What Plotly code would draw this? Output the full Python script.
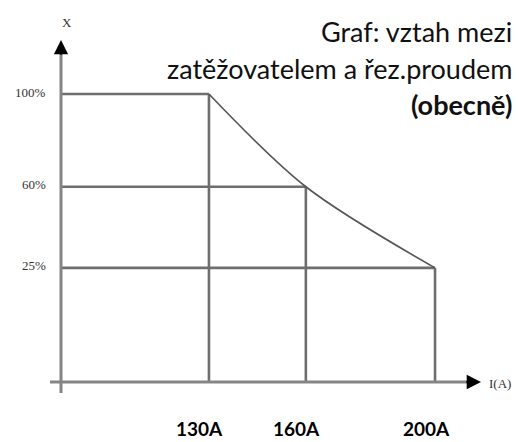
import plotly.graph_objects as go

# ---- data ----
currents = [130, 160, 200]            # I (A)
load_pct = [100, 60, 25]              # X (%)
x_labels = ["130A", "160A", "200A"]
y_labels = ["100%", "60%", "25%"]
title_lines = ["Graf: vztah mezi", "zatěžovatelem a řez.proudem", "<b>(obecně)</b>"]

# ---- layout constants ----
W, H = 519, 442
X_RANGE = [65.3, 226.0]
Y_RANGE = [-50.1, 140.55]
X_AXIS_AT = -24.3     # data y where the I-axis is drawn
Y_AXIS_AT = 84.2      # data x where the X-axis is drawn

LINE_COL = "#6e6e6e"
AXIS_COL = "#858585"
CURVE_COL = "#555555"

fig = go.Figure()

for c, p in zip(currents, load_pct):
    fig.add_trace(go.Scatter(x=[Y_AXIS_AT, c], y=[p, p], mode="lines",
                             line=dict(color=LINE_COL, width=2.6), hoverinfo="skip"))
    fig.add_trace(go.Scatter(x=[c, c], y=[X_AXIS_AT, p], mode="lines",
                             line=dict(color=LINE_COL, width=2.6), hoverinfo="skip"))

fig.add_trace(go.Scatter(x=currents, y=load_pct, mode="lines",
                         line=dict(color=CURVE_COL, width=1.6, shape="spline", smoothing=0.9),
                         hoverinfo="skip"))

def px(xp):
    return xp / W

def py(yp):
    return 1 - yp / H

shapes = [
    dict(type="line", xref="paper", yref="paper", x0=px(61), x1=px(61), y0=py(393), y1=py(50),
         line=dict(color=AXIS_COL, width=3)),
    dict(type="line", xref="paper", yref="paper", x0=px(50), x1=px(468), y0=py(382), y1=py(382),
         line=dict(color=AXIS_COL, width=3)),
]

annotations = []
annotations.append(dict(xref="paper", yref="paper", x=px(61), y=py(40), ax=0, ay=16,
                        showarrow=True, arrowhead=2, arrowsize=1.3, arrowwidth=2.2,
                        arrowcolor="black", text=""))
annotations.append(dict(xref="paper", yref="paper", x=px(481), y=py(382), ax=-16, ay=0,
                        showarrow=True, arrowhead=2, arrowsize=1.3, arrowwidth=2.2,
                        arrowcolor="black", text=""))
serif = dict(family="Liberation Serif", size=13, color="#333333")
annotations.append(dict(xref="paper", yref="paper", x=px(67), y=py(22), text="X",
                        showarrow=False, xanchor="center", yanchor="middle", font=serif))
annotations.append(dict(xref="paper", yref="paper", x=px(487), y=py(383), text="I(A)",
                        showarrow=False, xanchor="left", yanchor="middle", font=serif))
for p, lab in zip(load_pct, y_labels):
    annotations.append(dict(xref="paper", yref="y", x=px(48), y=p, text=lab, showarrow=False,
                            xanchor="right", yanchor="middle", yshift=2, font=serif))
for c, lab in zip(currents, x_labels):
    annotations.append(dict(xref="x", yref="paper", x=c, y=py(428), text="<b>" + lab + "</b>",
                            showarrow=False, xanchor="center", yanchor="middle", xshift=-9,
                            font=dict(family="Lato", size=19, color="black")))
for i, t in enumerate(title_lines):
    annotations.append(dict(xref="paper", yref="paper", x=px(514), y=py(32 + 36 * i), text=t,
                            showarrow=False, xanchor="right", yanchor="middle",
                            font=dict(family="Lato", size=27, color="#111111")))

fig.update_layout(
    width=W, height=H,
    margin=dict(l=0, r=0, t=0, b=0),
    paper_bgcolor="white", plot_bgcolor="white",
    showlegend=False,
    xaxis=dict(range=X_RANGE, visible=False, fixedrange=True),
    yaxis=dict(range=Y_RANGE, visible=False, fixedrange=True),
    shapes=shapes,
    annotations=annotations,
)

fig.write_html("out.html", config={"displayModeBar": False},
               post_script="document.body.style.margin='0';document.body.style.overflow='hidden';")
